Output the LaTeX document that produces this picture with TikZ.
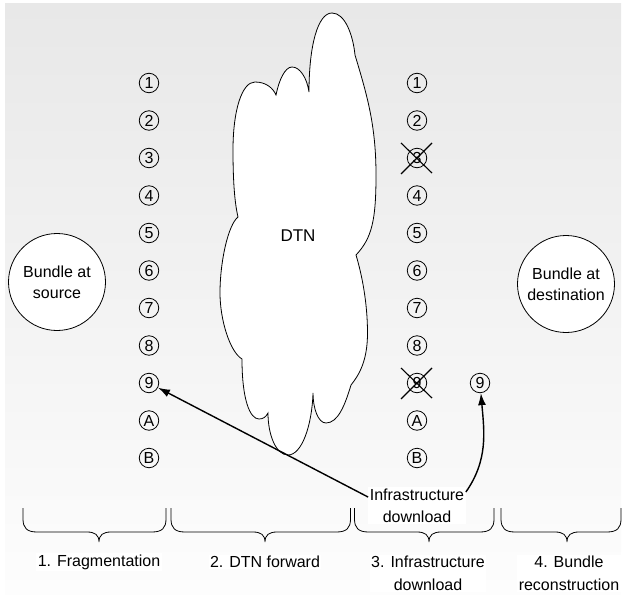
\documentclass[tikz,border=0pt]{standalone}
\usepackage{fontspec}
\setmainfont{Liberation Sans}
\usetikzlibrary{arrows.meta}
\definecolor{bgtop}{HTML}{E8E8E8}
\definecolor{bgbot}{HTML}{FDFDFD}
\newcommand{\dtnbrace}[3]{%
  \draw[brc] (#1,-508) -- (#1,-519) .. controls (#1,-528) and (#1+4,-532) .. (#1+14,-532)
    -- (#3-12,-532) .. controls (#3-4,-532) and (#3,-535) .. (#3,-542)
    .. controls (#3,-535) and (#3+4,-532) .. (#3+12,-532)
    -- (#2-14,-532) .. controls (#2-4,-532) and (#2,-528) .. (#2,-519) -- (#2,-508);}
\begin{document}
\begin{tikzpicture}[x=1pt,y=1pt,
  seg/.style={circle,draw,line width=0.8pt,minimum size=19.5pt,inner sep=0pt,font=\fontsize{16}{16}\selectfont},
  bund/.style={circle,draw,fill=white,line width=0.8pt,minimum size=97pt,inner sep=0pt,align=center,font=\fontsize{16}{21}\selectfont},
  lbl/.style={fill=white,align=center,inner sep=1.5pt,font=\fontsize{16}{23}\selectfont},
  arr/.style={line width=1.4pt,-{Latex[length=12pt,width=8pt]}},
  xmark/.style={line width=1.1pt},
  brc/.style={line width=0.8pt},
  cloudline/.style={line width=0.8pt,fill=white}]
\useasboundingbox (0,0) rectangle (626,-594);
\shade[top color=bgtop,bottom color=bgbot] (5,-4) rectangle (621,-594);
% cloud
\draw[cloudline] (309,-92)
  .. controls (309,-45) and (318,-13) .. (332,-13)
  .. controls (345,-13) and (353,-35) .. (355,-55)
  .. controls (367,-95) and (376,-125) .. (376,-175)
  .. controls (376,-220) and (372,-238) .. (356,-255)
  .. controls (362,-275) and (367.5,-303) .. (367.5,-333)
  .. controls (367.5,-361) and (359,-375) .. (351,-385)
  .. controls (345,-405) and (338,-423) .. (326,-423)
  .. controls (318,-423) and (313,-408) .. (313,-393)
  .. controls (312,-425) and (302,-455) .. (288,-455)
  .. controls (276,-455) and (268,-435) .. (268,-413)
  .. controls (266,-417) and (263,-419) .. (259,-419)
  .. controls (250,-419) and (242,-400) .. (242,-359)
  .. controls (230,-352) and (220,-320) .. (220,-293)
  .. controls (220,-262) and (228,-225) .. (238,-217)
  .. controls (234,-200) and (233,-175) .. (233,-150)
  .. controls (233,-110) and (242,-82) .. (255,-82)
  .. controls (266,-82) and (273,-88) .. (276,-95)
  .. controls (279,-80) and (285,-67) .. (292,-67)
  .. controls (300,-67) and (307,-78) .. (309,-92) -- cycle;
\node[font=\fontsize{17}{17}\selectfont] (dtn) at (298,-236) {DTN};
% bundles
\node[bund] (src) at (57,-282) {Bundle at\\source};
\node[bund] (dst) at (566,-284) {Bundle at\\destination};
% fragment columns
\foreach \t [count=\i] in {1,2,3,4,5,6,7,8,9,A,B} {
  \node[seg] (L\i) at (149,{-83-37.5*(\i-1)}) {\t};
  \node[seg] (R\i) at (417,{-83-37.5*(\i-1)}) {\t};
}
\node[seg] (R9b) at (480,-383) {9};
% crosses
\foreach \k in {3,9} {
  \draw[xmark] ([shift={(-16,15)}]R\k.center) -- ([shift={(15,-15)}]R\k.center);
  \draw[xmark] ([shift={(15,15)}]R\k.center) -- ([shift={(-16,-16)}]R\k.center);
}
% braces
\dtnbrace{23}{166}{99}
\dtnbrace{171}{350.5}{265}
\dtnbrace{354.5}{494}{429}
\dtnbrace{501}{621}{567}
% infrastructure label and arrows
\node[lbl,font=\fontsize{16}{21.7}\selectfont] (inf) at (417,-505.5) {Infrastructure\\download};
\draw[arr] ([yshift=-10pt]inf.north west) -- (L9);
\draw[arr] ([yshift=-5pt]inf.north east) to[out=55,in=-85] (R9b);
% bottom labels
\node[lbl] (s1) at (99,-562) {1. Fragmentation};
\node[lbl] (s2) at (265,-562) {2. DTN forward};
\node[lbl] (s3) at (428,-573.5) {3. Infrastructure\\download};
\node[lbl] (s4) at (569,-573.5) {4. Bundle\\reconstruction};
\end{tikzpicture}
\end{document}
